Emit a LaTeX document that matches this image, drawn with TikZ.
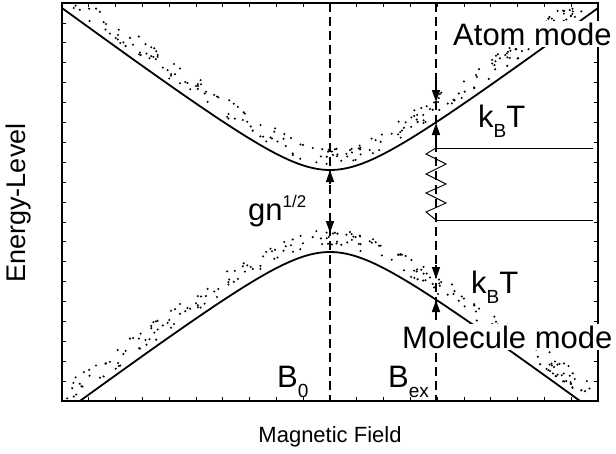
\documentclass[tikz,border=0pt]{standalone}
\usepackage{fontspec}
\setmainfont{Liberation Sans}
\usepackage{tikz}
\usetikzlibrary{arrows.meta}

\newcommand{\lowidx}[1]{\raisebox{-10pt}{\fontsize{19}{19}\selectfont #1}}
\newcommand{\highidx}[1]{\raisebox{13pt}{\fontsize{17}{17}\selectfont #1}}

\begin{document}
\begin{tikzpicture}[
    x=1pt, y=-1pt,
    big/.style={font=\fontsize{31}{31}\selectfont, inner sep=2pt},
    axlabel/.style={font=\fontsize{22}{22}\selectfont, inner sep=0pt},
    curve/.style={line width=1.8pt},
    guide/.style={line width=1.3pt, dash pattern=on 9pt off 5pt},
    arr/.style={-{Triangle[length=12pt, width=8pt]}, line width=1.5pt},
    thinline/.style={line width=0.9pt}
  ]
    \useasboundingbox (0,0) rectangle (616,453);

    % curves and thermal band
    \begin{scope}
      \clip (62,3) rectangle (598,401);
      \draw[curve] plot[domain=62:598, samples=140]
        (\x, {211-10*sqrt(0.5503*((\x-330)/10)^2+16.81)});
      \draw[curve] plot[domain=62:598, samples=140]
        (\x, {211+10*sqrt(0.5503*((\x-330)/10)^2+16.81)});
      \pgfmathsetseed{17}
      \foreach \i in {1,...,240}{
        \pgfmathsetmacro\xx{62+536*rnd}
        \pgfmathsetmacro\dd{10*sqrt(0.5503*((\xx-330)/10)^2+16.81)}
        \pgfmathsetmacro\ss{sqrt(1+(0.5503*(\xx-330)/\dd)^2)}
        \pgfmathsetmacro\oa{(5+17*rnd)*\ss}
        \pgfmathsetmacro\ob{(5+17*rnd)*\ss}
        \fill (\xx,{211-\dd-\oa}) circle (1.15pt);
        \fill (\xx,{211+\dd-\ob}) circle (1.15pt);
      }
    \end{scope}

    % frame with ticks
    \draw[line width=1.4pt] (62,3) rectangle (598,401);
    \foreach \i in {1,...,19}{
      \draw[line width=0.8pt] ({62+26.8*\i},401) -- ++(0,-4);
      \draw[line width=0.8pt] ({62+26.8*\i},3) -- ++(0,4);
      \draw[line width=0.8pt] (62,{3+19.9*\i}) -- ++(4,0);
      \draw[line width=0.8pt] (598,{3+19.9*\i}) -- ++(-4,0);
    }

    % guide lines
    \coordinate (b0top) at (330,3);
    \coordinate (b0bot) at (330,401);
    \coordinate (bxtop) at (436,3);
    \coordinate (bxbot) at (436,401);
    \draw[guide] (b0top) -- (b0bot);
    \draw[guide] (bxtop) -- (bxbot);

    % gap at B0
    \coordinate (upmin) at (330,170);
    \coordinate (lomax) at (330,233);
    \draw[arr] (330,184) -- (upmin);
    \draw[arr] (330,219) -- (lomax);

    % thermal arrows at Bex
    \coordinate (zt) at (436,148);
    \coordinate (zb) at (436,220);
    \coordinate (atop) at (436,102);
    \coordinate (acur) at (436,123);
    \coordinate (mtop) at (436,279);
    \coordinate (mcur) at (436,300);
    \draw[arr] (436,78) -- (atop);
    \draw[arr] (zt) -- (acur);
    \draw[arr] (436,265) -- (mtop);
    \draw[arr] (436,314) -- (mcur);
    \draw[thinline] (zt) -- (426,154) -- (446,164) -- (426,174) -- (446,184)
      -- (426,193) -- (446,203) -- (426,212) -- (zb);
    \draw[thinline] (zt) -- (593,148);
    \draw[thinline] (zb) -- (593,220);

    % labels
    \node[big, fill=white, anchor=base west] (atom) at (451,45) {Atom mode};
    \node[big, fill=white, anchor=base west] (mol) at (400,348) {Molecule mode};
    \node[big, anchor=base west] (kbtup) at (476,127) {k\lowidx{B}T};
    \node[big, anchor=base west] (kbtlo) at (469,293) {k\lowidx{B}T};
    \node[big, anchor=base west] (gn) at (246,220) {gn\highidx{1/2}};
    \node[big, anchor=base west] (bnull) at (275,387) {B\lowidx{0}};
    \node[big, anchor=base west] (bex) at (386,387) {B\lowidx{ex}};
    \node[axlabel, font=\fontsize{27}{27}\selectfont, rotate=90] (ylab)
      at (19,203) {Energy-Level};
    \node[axlabel, anchor=base] (xlab) at (330,442) {Magnetic Field};
\end{tikzpicture}
\end{document}
